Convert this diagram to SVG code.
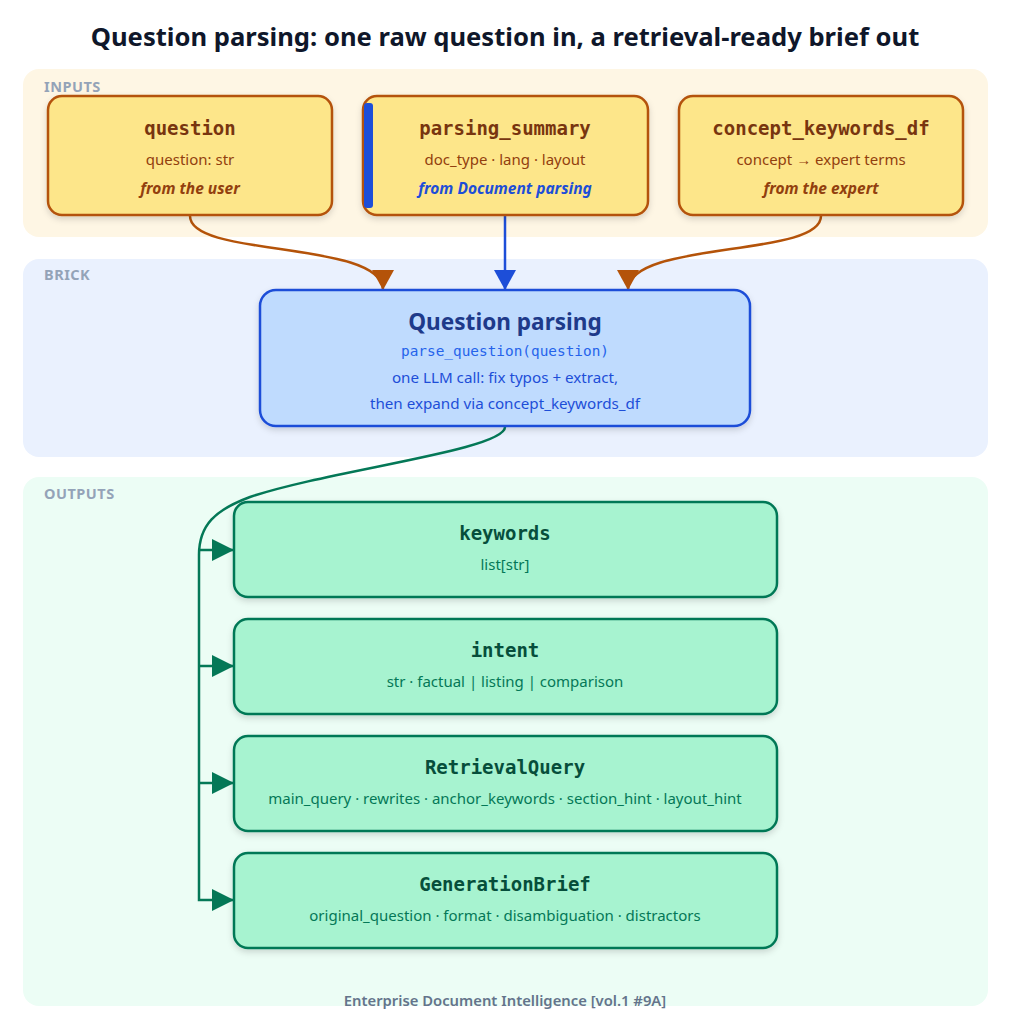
<svg xmlns="http://www.w3.org/2000/svg" width="1011" height="1024" viewBox="0 0 1011 1024">
<style>
.band-label{font-family:"Noto Sans","Open Sans",sans-serif;font-weight:700;font-size:14.5px;fill:#94a3b8;letter-spacing:0.5px}
.in-box{fill:#fde68a;stroke:#b45309;stroke-width:2.5}
.in-title{font-family:"DejaVu Sans Mono",monospace;font-weight:700;font-size:19px;fill:#78350f;text-anchor:middle}
.in-sub{font-family:"Noto Sans","Open Sans",sans-serif;font-size:15px;fill:#92400e;text-anchor:middle}
.in-src{font-family:"Noto Sans","Open Sans",sans-serif;font-size:15.5px;font-weight:700;font-style:italic;fill:#92400e;text-anchor:middle}
.out-box{fill:#a7f3d0;stroke:#047857;stroke-width:2.5}
.out-title{font-family:"DejaVu Sans Mono",monospace;font-weight:700;font-size:19px;fill:#064e3b;text-anchor:middle}
.out-sub{font-family:"Noto Sans","Open Sans",sans-serif;font-size:15px;fill:#047857;text-anchor:middle}
.brick-text{font-family:"Noto Sans","Open Sans",sans-serif;font-size:15.2px;fill:#1d4ed8;text-anchor:middle}
</style>
<defs>
<filter id="sh" x="-10%" y="-10%" width="120%" height="130%">
<feDropShadow dx="0" dy="3" stdDeviation="3" flood-color="#000" flood-opacity="0.15"/>
</filter>
<marker id="arrBrown" markerUnits="userSpaceOnUse" markerWidth="22" markerHeight="22" refX="20" refY="11" orient="auto">
<path d="M0,0 L20,11 L0,22 Z" fill="#b45309"/>
</marker>
<marker id="arrBlue" markerUnits="userSpaceOnUse" markerWidth="22" markerHeight="22" refX="20" refY="11" orient="auto">
<path d="M0,0 L20,11 L0,22 Z" fill="#1d4ed8"/>
</marker>
<marker id="arrGreen" markerUnits="userSpaceOnUse" markerWidth="24" markerHeight="22" refX="22" refY="11" orient="auto">
<path d="M0,0 L22,11 L0,22 Z" fill="#047857"/>
</marker>
</defs>
<rect width="1011" height="1024" fill="#ffffff"/>
<text x="505" y="46" text-anchor="middle" font-family="Noto Sans, Open Sans, sans-serif" font-weight="700" font-size="25.6" fill="#0f172a">Question parsing: one raw question in, a retrieval-ready brief out</text>

<g id="band-inputs">
<rect x="23" y="69" width="965" height="168" rx="16" fill="#fef6e4"/>
<text class="band-label" x="44" y="92">INPUTS</text>
</g>
<g id="band-brick">
<rect x="23" y="259" width="965" height="198" rx="16" fill="#eaf1fe"/>
<text class="band-label" x="44" y="280">BRICK</text>
</g>
<g id="band-outputs">
<rect x="23" y="477" width="965" height="529" rx="16" fill="#ecfdf5"/>
<text class="band-label" x="44" y="499">OUTPUTS</text>
</g>

<g id="connectors" fill="none">
<path d="M190,216 C190,258 383,240 383,290" stroke="#b45309" stroke-width="2.5" marker-end="url(#arrBrown)"/>
<path d="M505,216 L505,290" stroke="#1d4ed8" stroke-width="2.5" marker-end="url(#arrBlue)"/>
<path d="M821,216 C821,258 628,240 628,290" stroke="#b45309" stroke-width="2.5" marker-end="url(#arrBrown)"/>
<path d="M505,427 C505,450 330,470 250,497 C215,510 199,525 199,555 L199,900 L234,900" stroke="#047857" stroke-width="2.5" marker-end="url(#arrGreen)"/>
<path d="M199,550 L234,550" stroke="#047857" stroke-width="2.5" marker-end="url(#arrGreen)"/>
<path d="M199,666 L234,666" stroke="#047857" stroke-width="2.5" marker-end="url(#arrGreen)"/>
<path d="M199,783 L234,783" stroke="#047857" stroke-width="2.5" marker-end="url(#arrGreen)"/>
</g>

<g id="node-question">
<rect class="in-box" x="48" y="96" width="284" height="119" rx="14" filter="url(#sh)"/>
<text class="in-title" x="190" y="135">question</text>
<text class="in-sub" x="190" y="165">question: str</text>
<text class="in-src" x="190" y="194">from the user</text>
</g>
<g id="node-parsing-summary">
<rect class="in-box" x="363" y="96" width="285" height="119" rx="14" filter="url(#sh)"/>
<rect x="364" y="103" width="9" height="105" rx="3" fill="#1d4ed8"/>
<text class="in-title" x="505" y="135">parsing_summary</text>
<text class="in-sub" x="505" y="165">doc_type · lang · layout</text>
<text class="in-src" x="505" y="194" style="fill:#1d4ed8">from Document parsing</text>
</g>
<g id="node-concept-keywords-df">
<rect class="in-box" x="679" y="96" width="284" height="119" rx="14" filter="url(#sh)"/>
<text class="in-title" x="821" y="135">concept_keywords_df</text>
<text class="in-sub" x="821" y="165">concept → expert terms</text>
<text class="in-src" x="821" y="194">from the expert</text>
</g>

<g id="node-question-parsing">
<rect x="260" y="290" width="490" height="136" rx="16" fill="#bfdbfe" stroke="#1d4ed8" stroke-width="2.5" filter="url(#sh)"/>
<text x="505" y="330" text-anchor="middle" font-family="Noto Sans, Open Sans, sans-serif" font-weight="700" font-size="22.6" fill="#1e3a8a">Question parsing</text>
<text x="505" y="356" text-anchor="middle" font-family="DejaVu Sans Mono, monospace" font-size="14.4" fill="#2563eb">parse_question(question)</text>
<text class="brick-text" x="505" y="383">one LLM call: fix typos + extract,</text>
<text class="brick-text" x="505" y="409">then expand via concept_keywords_df</text>
</g>

<g id="node-keywords">
<rect class="out-box" x="234" y="502" width="543" height="95" rx="14" filter="url(#sh)"/>
<text class="out-title" x="505" y="540">keywords</text>
<text class="out-sub" x="505" y="570">list[str]</text>
</g>
<g id="node-intent">
<rect class="out-box" x="234" y="619" width="543" height="95" rx="14" filter="url(#sh)"/>
<text class="out-title" x="505" y="657">intent</text>
<text class="out-sub" x="505" y="687">str · factual | listing | comparison</text>
</g>
<g id="node-retrievalquery">
<rect class="out-box" x="234" y="736" width="543" height="95" rx="14" filter="url(#sh)"/>
<text class="out-title" x="505" y="774">RetrievalQuery</text>
<text class="out-sub" x="505" y="804">main_query · rewrites · anchor_keywords · section_hint · layout_hint</text>
</g>
<g id="node-generationbrief">
<rect class="out-box" x="234" y="853" width="543" height="95" rx="14" filter="url(#sh)"/>
<text class="out-title" x="505" y="891">GenerationBrief</text>
<text class="out-sub" x="505" y="921">original_question · format · disambiguation · distractors</text>
</g>

<text x="505" y="1006" text-anchor="middle" font-family="Noto Sans, Open Sans, sans-serif" font-weight="600" font-size="14.8" fill="#64748b">Enterprise Document Intelligence [vol.1 #9A]</text>
</svg>
